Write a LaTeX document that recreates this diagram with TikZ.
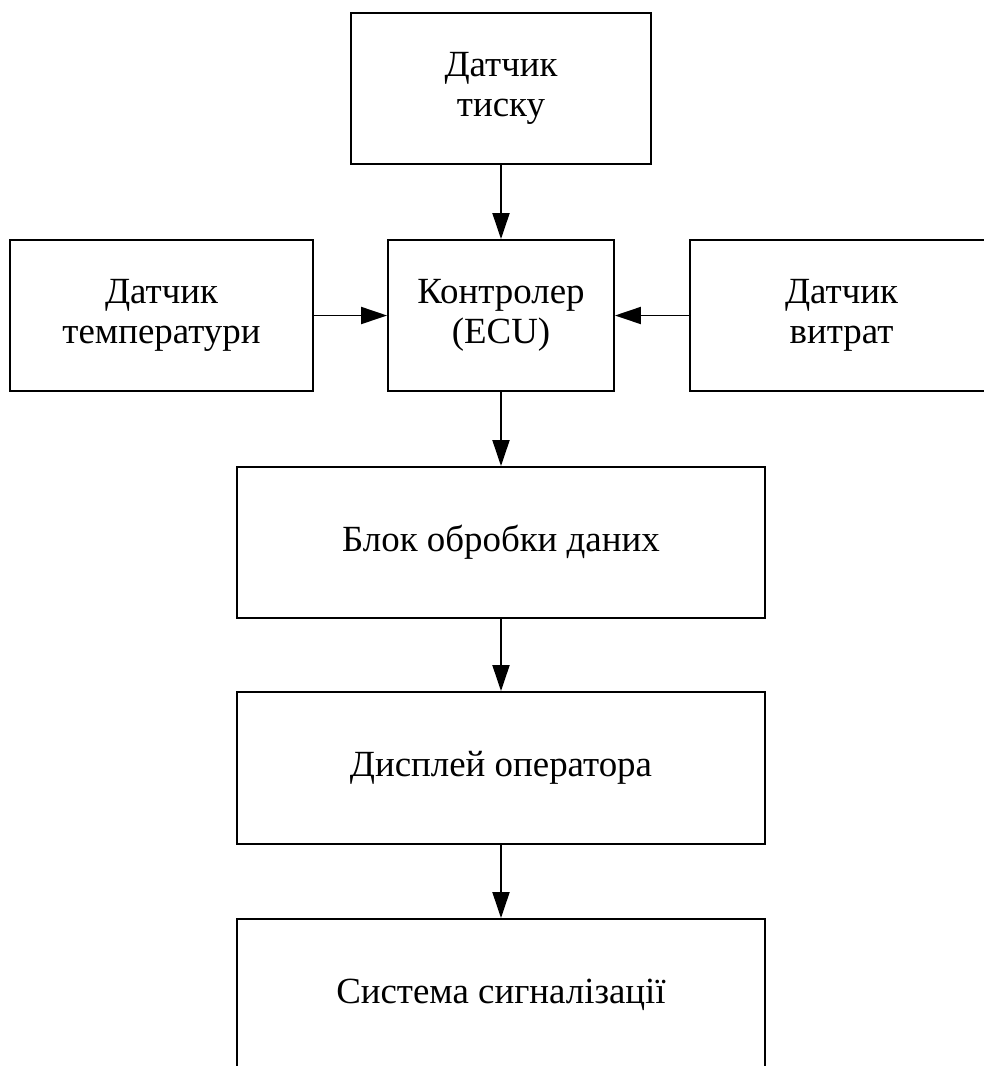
\documentclass[tikz,border=0pt]{standalone}
\usepackage{fontspec}
\setmainfont{Liberation Serif}
\usetikzlibrary{arrows.meta}
\usetikzlibrary{positioning}

\begin{document}
\begin{tikzpicture}[x=0.02cm,y=-0.02cm]

    \useasboundingbox (0,0) rectangle (984,1066);
    \clip (0,0) rectangle (984,1066);

        % Add or remove blocks here, use the tuple for location
        \begin{scope}[every node/.style={rectangle,draw,line width=1.1pt,align=center,inner sep=0pt,
                      minimum height=3.02cm,font=\fontsize{21}{22.8}\selectfont}]
        \node[minimum width=6cm] (P) at (501,88.5) {Датчик\\тиску};
        \node[minimum width=6.06cm] (T) at (161.5,315.5) {Датчик\\температури};
        \node[minimum width=4.52cm] (C) at (501,315.5) {Контролер\\(ECU)};
        \node[minimum width=6.06cm] (F) at (841.5,315.5) {Датчик\\витрат};
        \node[minimum width=10.58cm] (B) at (501,542.5) {Блок обробки даних};
        \node[minimum width=10.58cm,minimum height=3.04cm] (D) at (501,768) {Дисплей оператора};
        \node[minimum width=10.58cm] (S) at (501,994.5) {Система сигналізації};
        \end{scope}

        % signals (black)
        % Remove or add new arrows here
        \begin{scope}[>={Triangle[black,length=0.52cm,width=0.34cm]},
                  every edge/.style={draw=black, line width=1.1pt}]
        \path [->] (P) edge[] (C);
        \path [->] (T) edge[] (C);
        \path [->] (F) edge[] (C);
        \path [->] (C) edge[] (B);
        \path [->] (B) edge[] (D);
        \path [->] (D) edge[] (S);
        \end{scope}

\end{tikzpicture}
\end{document}
